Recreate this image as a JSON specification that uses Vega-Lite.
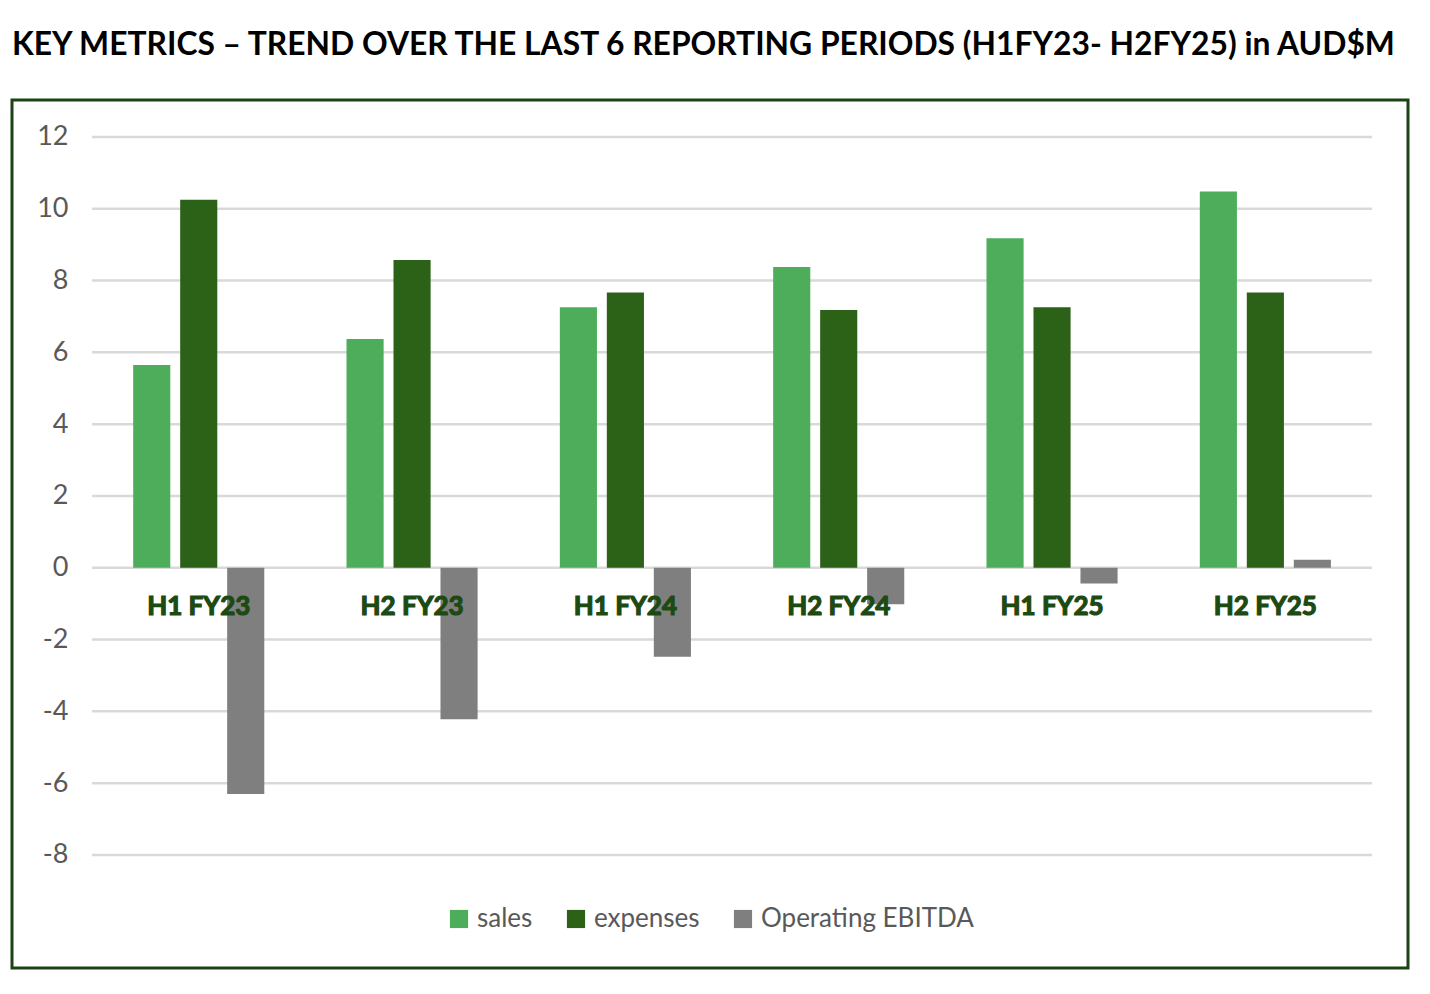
{
  "$schema": "https://vega.github.io/schema/vega-lite/v6.json",
  "width": 1396,
  "height": 868,
  "autosize": {"type": "none"},
  "padding": {"left": 12, "top": 100, "right": 22, "bottom": 26},
  "background": "white",
  "title": {
    "text": "KEY METRICS – TREND OVER THE LAST 6 REPORTING PERIODS (H1FY23- H2FY25) in AUD$M",
    "anchor": "start",
    "frame": "group",
    "font": "Lato",
    "fontSize": 31.8,
    "fontWeight": "bold",
    "color": "#000000",
    "baseline": "alphabetic",
    "offset": 13
  },
  "view": {"stroke": "#1B4314", "strokeWidth": 3},
  "datasets": {
    "metrics": [
      {"period": "H1 FY23", "metric": "sales", "value": 5.65},
      {"period": "H1 FY23", "metric": "expenses", "value": 10.25},
      {"period": "H1 FY23", "metric": "Operating EBITDA", "value": -6.3},
      {"period": "H2 FY23", "metric": "sales", "value": 6.37},
      {"period": "H2 FY23", "metric": "expenses", "value": 8.57},
      {"period": "H2 FY23", "metric": "Operating EBITDA", "value": -4.22},
      {"period": "H1 FY24", "metric": "sales", "value": 7.26},
      {"period": "H1 FY24", "metric": "expenses", "value": 7.67},
      {"period": "H1 FY24", "metric": "Operating EBITDA", "value": -2.48},
      {"period": "H2 FY24", "metric": "sales", "value": 8.38},
      {"period": "H2 FY24", "metric": "expenses", "value": 7.18},
      {"period": "H2 FY24", "metric": "Operating EBITDA", "value": -1.02},
      {"period": "H1 FY25", "metric": "sales", "value": 9.18},
      {"period": "H1 FY25", "metric": "expenses", "value": 7.26},
      {"period": "H1 FY25", "metric": "Operating EBITDA", "value": -0.44},
      {"period": "H2 FY25", "metric": "sales", "value": 10.48},
      {"period": "H2 FY25", "metric": "expenses", "value": 7.67},
      {"period": "H2 FY25", "metric": "Operating EBITDA", "value": 0.22}
    ],
    "grid": [
      {"v": -8}, {"v": -6}, {"v": -4}, {"v": -2}, {"v": 0}, {"v": 2},
      {"v": 4}, {"v": 6}, {"v": 8}, {"v": 10}, {"v": 12}
    ],
    "periods": [
      {"period": "H1 FY23"}, {"period": "H2 FY23"}, {"period": "H1 FY24"},
      {"period": "H2 FY24"}, {"period": "H1 FY25"}, {"period": "H2 FY25"}
    ]
  },
  "layer": [
    {
      "data": {"name": "grid"},
      "mark": {"type": "rule", "color": "#D9D9D9", "strokeWidth": 2.5},
      "encoding": {
        "y": {
          "field": "v",
          "type": "quantitative",
          "scale": {"domain": [-11.15, 13.03], "nice": false, "zero": false},
          "axis": {
            "values": [-8, -6, -4, -2, 0, 2, 4, 6, 8, 10, 12],
            "labelExpr": "toString(datum.value)",
            "grid": false,
            "domain": false,
            "ticks": false,
            "labelPadding": 6,
            "offset": -62,
            "labelFont": "Lato",
            "labelFontSize": 27,
            "labelColor": "#595959",
            "title": null
          }
        },
        "x": {
          "datum": "H1 FY23",
          "type": "nominal",
          "bandPosition": 0,
          "scale": {"domain": ["H1 FY23", "H2 FY23", "H1 FY24", "H2 FY24", "H1 FY25", "H2 FY25"], "paddingInner": 0, "paddingOuter": 0.272, "align": 0.69},
          "axis": null
        },
        "x2": {"datum": "H2 FY25", "bandPosition": 1}
      }
    },
    {
      "data": {"name": "metrics"},
      "mark": {"type": "bar"},
      "encoding": {
        "x": {
          "field": "period",
          "type": "nominal",
          "sort": ["H1 FY23", "H2 FY23", "H1 FY24", "H2 FY24", "H1 FY25", "H2 FY25"],
          "axis": null
        },
        "xOffset": {
          "field": "metric",
          "type": "nominal",
          "sort": ["sales", "expenses", "Operating EBITDA"],
          "scale": {"paddingInner": 0.21, "paddingOuter": 0.875}
        },
        "y": {
          "field": "value",
          "type": "quantitative"
        },
        "color": {
          "field": "metric",
          "type": "nominal",
          "sort": ["sales", "expenses", "Operating EBITDA"],
          "scale": {
            "domain": ["sales", "expenses", "Operating EBITDA"],
            "range": ["#4EAD5B", "#2C6118", "#7F7F7F"]
          },
          "legend": {
            "orient": "none",
            "legendX": 434,
            "legendY": 806,
            "direction": "horizontal",
            "title": null,
            "symbolType": "square",
            "symbolSize": 330,
            "symbolStrokeWidth": 0,
            "labelFont": "Lato",
            "labelFontSize": 26,
            "labelColor": "#595959",
            "labelOffset": 5,
            "labelLimit": 400,
            "columnPadding": 30
          }
        }
      }
    },
    {
      "data": {"name": "periods"},
      "mark": {"type": "text", "font": "Lato", "fontSize": 26, "fontWeight": "bold", "color": "#1D4A12", "stroke": "#1D4A12", "strokeWidth": 1.2, "baseline": "middle", "align": "center"},
      "encoding": {
        "x": {"field": "period", "type": "nominal", "axis": null},
        "y": {"datum": -1.1, "type": "quantitative"},
        "text": {"field": "period"}
      }
    }
  ]
}
